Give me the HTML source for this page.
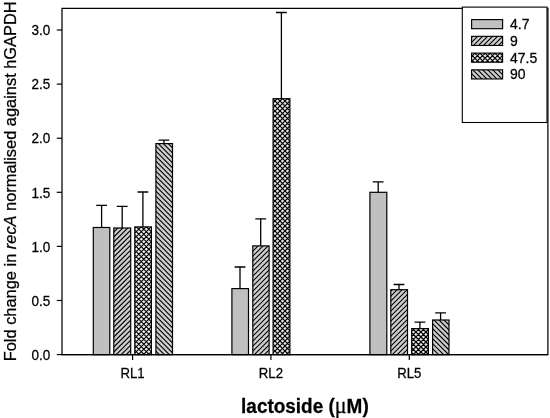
<!DOCTYPE html>
<html><head><meta charset="utf-8"><title>chart</title>
<style>
html,body{margin:0;padding:0;background:#fff;}
body{width:550px;height:418px;overflow:hidden;}
svg{display:block;}
text{font-family:"Liberation Sans",sans-serif;fill:#000;stroke:#000;stroke-width:0.25px;}
</style></head><body>
<svg width="550" height="418" viewBox="0 0 550 418" style="will-change:transform">
<defs>
<filter id="bl" x="-5%" y="-5%" width="110%" height="110%"><feGaussianBlur stdDeviation="0.45"/></filter>
</defs>
<rect width="550" height="418" fill="#fff"/>
<!-- frame -->
<path d="M62 8.45H547.9V354.6H62Z" fill="none" stroke="#000" stroke-width="1.25"/>
<line x1="56.8" x2="62" y1="354.6" y2="354.6" stroke="#000" stroke-width="1.2"/>
<text transform="translate(50.2 359.8) scale(1 1.07)" text-anchor="end" font-size="13.5">0.0</text>
<line x1="56.8" x2="62" y1="300.5" y2="300.5" stroke="#000" stroke-width="1.2"/>
<text transform="translate(50.2 305.7) scale(1 1.07)" text-anchor="end" font-size="13.5">0.5</text>
<line x1="56.8" x2="62" y1="246.4" y2="246.4" stroke="#000" stroke-width="1.2"/>
<text transform="translate(50.2 251.6) scale(1 1.07)" text-anchor="end" font-size="13.5">1.0</text>
<line x1="56.8" x2="62" y1="192.3" y2="192.3" stroke="#000" stroke-width="1.2"/>
<text transform="translate(50.2 197.5) scale(1 1.07)" text-anchor="end" font-size="13.5">1.5</text>
<line x1="56.8" x2="62" y1="138.2" y2="138.2" stroke="#000" stroke-width="1.2"/>
<text transform="translate(50.2 143.4) scale(1 1.07)" text-anchor="end" font-size="13.5">2.0</text>
<line x1="56.8" x2="62" y1="84.1" y2="84.1" stroke="#000" stroke-width="1.2"/>
<text transform="translate(50.2 89.3) scale(1 1.07)" text-anchor="end" font-size="13.5">2.5</text>
<line x1="56.8" x2="62" y1="30.0" y2="30.0" stroke="#000" stroke-width="1.2"/>
<text transform="translate(50.2 35.2) scale(1 1.07)" text-anchor="end" font-size="13.5">3.0</text>
<line x1="132.6" x2="132.6" y1="354.6" y2="360.1" stroke="#000" stroke-width="1.2"/>
<text transform="translate(132.6 378.4) scale(1 1.07)" text-anchor="middle" font-size="13.2">RL1</text>
<line x1="270.9" x2="270.9" y1="354.6" y2="360.1" stroke="#000" stroke-width="1.2"/>
<text transform="translate(270.9 378.4) scale(1 1.07)" text-anchor="middle" font-size="13.2">RL2</text>
<line x1="409.3" x2="409.3" y1="354.6" y2="360.1" stroke="#000" stroke-width="1.2"/>
<text transform="translate(409.3 378.4) scale(1 1.07)" text-anchor="middle" font-size="13.2">RL5</text>
<path d="M101.6 227.5V205.3M96.2 205.3H107.0" stroke="#000" stroke-width="1.3" fill="none"/>
<rect x="93.30" y="227.50" width="16.50" height="127.10" fill="#c0c0c0" stroke="#000" stroke-width="1.2"/>
<path d="M122.2 228.0V206.4M116.8 206.4H127.6" stroke="#000" stroke-width="1.3" fill="none"/>
<clipPath id="c1"><rect x="113.80" y="228.00" width="16.90" height="126.60"/></clipPath>
<rect x="113.80" y="228.00" width="16.90" height="126.60" fill="#cdcdcd"/>
<g clip-path="url(#c1)"><path filter="url(#bl)" d="M112.80 223.00L131.70 204.10M112.80 228.00L131.70 209.10M112.80 233.00L131.70 214.10M112.80 238.00L131.70 219.10M112.80 243.00L131.70 224.10M112.80 248.00L131.70 229.10M112.80 253.00L131.70 234.10M112.80 258.00L131.70 239.10M112.80 263.00L131.70 244.10M112.80 268.00L131.70 249.10M112.80 273.00L131.70 254.10M112.80 278.00L131.70 259.10M112.80 283.00L131.70 264.10M112.80 288.00L131.70 269.10M112.80 293.00L131.70 274.10M112.80 298.00L131.70 279.10M112.80 303.00L131.70 284.10M112.80 308.00L131.70 289.10M112.80 313.00L131.70 294.10M112.80 318.00L131.70 299.10M112.80 323.00L131.70 304.10M112.80 328.00L131.70 309.10M112.80 333.00L131.70 314.10M112.80 338.00L131.70 319.10M112.80 343.00L131.70 324.10M112.80 348.00L131.70 329.10M112.80 353.00L131.70 334.10M112.80 358.00L131.70 339.10M112.80 363.00L131.70 344.10M112.80 368.00L131.70 349.10M112.80 373.00L131.70 354.10M112.80 378.00L131.70 359.10" stroke="#000" stroke-width="1.1" fill="none"/></g>
<rect x="113.80" y="228.00" width="16.90" height="126.60" fill="none" stroke="#000" stroke-width="1.2"/>
<path d="M142.9 226.9V192.0M137.5 192.0H148.3" stroke="#000" stroke-width="1.3" fill="none"/>
<clipPath id="c2"><rect x="134.80" y="226.90" width="16.60" height="127.70"/></clipPath>
<rect x="134.80" y="226.90" width="16.60" height="127.70" fill="#e8e8e8"/>
<g clip-path="url(#c2)"><path filter="url(#bl)" d="M133.80 219.20L152.40 200.60M133.80 224.20L152.40 205.60M133.80 229.20L152.40 210.60M133.80 234.20L152.40 215.60M133.80 239.20L152.40 220.60M133.80 244.20L152.40 225.60M133.80 249.20L152.40 230.60M133.80 254.20L152.40 235.60M133.80 259.20L152.40 240.60M133.80 264.20L152.40 245.60M133.80 269.20L152.40 250.60M133.80 274.20L152.40 255.60M133.80 279.20L152.40 260.60M133.80 284.20L152.40 265.60M133.80 289.20L152.40 270.60M133.80 294.20L152.40 275.60M133.80 299.20L152.40 280.60M133.80 304.20L152.40 285.60M133.80 309.20L152.40 290.60M133.80 314.20L152.40 295.60M133.80 319.20L152.40 300.60M133.80 324.20L152.40 305.60M133.80 329.20L152.40 310.60M133.80 334.20L152.40 315.60M133.80 339.20L152.40 320.60M133.80 344.20L152.40 325.60M133.80 349.20L152.40 330.60M133.80 354.20L152.40 335.60M133.80 359.20L152.40 340.60M133.80 364.20L152.40 345.60M133.80 369.20L152.40 350.60M133.80 374.20L152.40 355.60M133.80 379.20L152.40 360.60M133.80 204.20L152.40 222.80M133.80 209.20L152.40 227.80M133.80 214.20L152.40 232.80M133.80 219.20L152.40 237.80M133.80 224.20L152.40 242.80M133.80 229.20L152.40 247.80M133.80 234.20L152.40 252.80M133.80 239.20L152.40 257.80M133.80 244.20L152.40 262.80M133.80 249.20L152.40 267.80M133.80 254.20L152.40 272.80M133.80 259.20L152.40 277.80M133.80 264.20L152.40 282.80M133.80 269.20L152.40 287.80M133.80 274.20L152.40 292.80M133.80 279.20L152.40 297.80M133.80 284.20L152.40 302.80M133.80 289.20L152.40 307.80M133.80 294.20L152.40 312.80M133.80 299.20L152.40 317.80M133.80 304.20L152.40 322.80M133.80 309.20L152.40 327.80M133.80 314.20L152.40 332.80M133.80 319.20L152.40 337.80M133.80 324.20L152.40 342.80M133.80 329.20L152.40 347.80M133.80 334.20L152.40 352.80M133.80 339.20L152.40 357.80M133.80 344.20L152.40 362.80M133.80 349.20L152.40 367.80M133.80 354.20L152.40 372.80M133.80 359.20L152.40 377.80" stroke="#000" stroke-width="1.15" fill="none"/></g>
<rect x="134.80" y="226.90" width="16.60" height="127.70" fill="none" stroke="#000" stroke-width="1.2"/>
<path d="M163.9 143.6V140.2M158.5 140.2H169.3" stroke="#000" stroke-width="1.3" fill="none"/>
<clipPath id="c3"><rect x="155.90" y="143.60" width="16.60" height="211.00"/></clipPath>
<rect x="155.90" y="143.60" width="16.60" height="211.00" fill="#cdcdcd"/>
<g clip-path="url(#c3)"><path filter="url(#bl)" d="M154.90 120.20L173.50 138.80M154.90 125.20L173.50 143.80M154.90 130.20L173.50 148.80M154.90 135.20L173.50 153.80M154.90 140.20L173.50 158.80M154.90 145.20L173.50 163.80M154.90 150.20L173.50 168.80M154.90 155.20L173.50 173.80M154.90 160.20L173.50 178.80M154.90 165.20L173.50 183.80M154.90 170.20L173.50 188.80M154.90 175.20L173.50 193.80M154.90 180.20L173.50 198.80M154.90 185.20L173.50 203.80M154.90 190.20L173.50 208.80M154.90 195.20L173.50 213.80M154.90 200.20L173.50 218.80M154.90 205.20L173.50 223.80M154.90 210.20L173.50 228.80M154.90 215.20L173.50 233.80M154.90 220.20L173.50 238.80M154.90 225.20L173.50 243.80M154.90 230.20L173.50 248.80M154.90 235.20L173.50 253.80M154.90 240.20L173.50 258.80M154.90 245.20L173.50 263.80M154.90 250.20L173.50 268.80M154.90 255.20L173.50 273.80M154.90 260.20L173.50 278.80M154.90 265.20L173.50 283.80M154.90 270.20L173.50 288.80M154.90 275.20L173.50 293.80M154.90 280.20L173.50 298.80M154.90 285.20L173.50 303.80M154.90 290.20L173.50 308.80M154.90 295.20L173.50 313.80M154.90 300.20L173.50 318.80M154.90 305.20L173.50 323.80M154.90 310.20L173.50 328.80M154.90 315.20L173.50 333.80M154.90 320.20L173.50 338.80M154.90 325.20L173.50 343.80M154.90 330.20L173.50 348.80M154.90 335.20L173.50 353.80M154.90 340.20L173.50 358.80M154.90 345.20L173.50 363.80M154.90 350.20L173.50 368.80M154.90 355.20L173.50 373.80M154.90 360.20L173.50 378.80" stroke="#000" stroke-width="1.1" fill="none"/></g>
<rect x="155.90" y="143.60" width="16.60" height="211.00" fill="none" stroke="#000" stroke-width="1.2"/>
<path d="M240.0 288.6V267.0M234.6 267.0H245.4" stroke="#000" stroke-width="1.3" fill="none"/>
<rect x="231.90" y="288.60" width="16.60" height="66.00" fill="#c0c0c0" stroke="#000" stroke-width="1.2"/>
<path d="M260.7 245.9V218.8M255.3 218.8H266.1" stroke="#000" stroke-width="1.3" fill="none"/>
<clipPath id="c4"><rect x="252.80" y="245.90" width="16.30" height="108.70"/></clipPath>
<rect x="252.80" y="245.90" width="16.30" height="108.70" fill="#cdcdcd"/>
<g clip-path="url(#c4)"><path filter="url(#bl)" d="M251.80 237.20L270.10 218.90M251.80 242.20L270.10 223.90M251.80 247.20L270.10 228.90M251.80 252.20L270.10 233.90M251.80 257.20L270.10 238.90M251.80 262.20L270.10 243.90M251.80 267.20L270.10 248.90M251.80 272.20L270.10 253.90M251.80 277.20L270.10 258.90M251.80 282.20L270.10 263.90M251.80 287.20L270.10 268.90M251.80 292.20L270.10 273.90M251.80 297.20L270.10 278.90M251.80 302.20L270.10 283.90M251.80 307.20L270.10 288.90M251.80 312.20L270.10 293.90M251.80 317.20L270.10 298.90M251.80 322.20L270.10 303.90M251.80 327.20L270.10 308.90M251.80 332.20L270.10 313.90M251.80 337.20L270.10 318.90M251.80 342.20L270.10 323.90M251.80 347.20L270.10 328.90M251.80 352.20L270.10 333.90M251.80 357.20L270.10 338.90M251.80 362.20L270.10 343.90M251.80 367.20L270.10 348.90M251.80 372.20L270.10 353.90M251.80 377.20L270.10 358.90" stroke="#000" stroke-width="1.1" fill="none"/></g>
<rect x="252.80" y="245.90" width="16.30" height="108.70" fill="none" stroke="#000" stroke-width="1.2"/>
<path d="M281.4 98.7V12.5M276.0 12.5H286.8" stroke="#000" stroke-width="1.3" fill="none"/>
<clipPath id="c5"><rect x="273.10" y="98.70" width="16.80" height="255.90"/></clipPath>
<rect x="273.10" y="98.70" width="16.80" height="255.90" fill="#e8e8e8"/>
<g clip-path="url(#c5)"><path filter="url(#bl)" d="M272.10 93.83L290.90 75.03M272.10 98.83L290.90 80.03M272.10 103.83L290.90 85.03M272.10 108.83L290.90 90.03M272.10 113.83L290.90 95.03M272.10 118.83L290.90 100.03M272.10 123.83L290.90 105.03M272.10 128.83L290.90 110.03M272.10 133.83L290.90 115.03M272.10 138.83L290.90 120.03M272.10 143.83L290.90 125.03M272.10 148.83L290.90 130.03M272.10 153.83L290.90 135.03M272.10 158.83L290.90 140.03M272.10 163.83L290.90 145.03M272.10 168.83L290.90 150.03M272.10 173.83L290.90 155.03M272.10 178.83L290.90 160.03M272.10 183.83L290.90 165.03M272.10 188.83L290.90 170.03M272.10 193.83L290.90 175.03M272.10 198.83L290.90 180.03M272.10 203.83L290.90 185.03M272.10 208.83L290.90 190.03M272.10 213.83L290.90 195.03M272.10 218.83L290.90 200.03M272.10 223.83L290.90 205.03M272.10 228.83L290.90 210.03M272.10 233.83L290.90 215.03M272.10 238.83L290.90 220.03M272.10 243.83L290.90 225.03M272.10 248.83L290.90 230.03M272.10 253.83L290.90 235.03M272.10 258.83L290.90 240.03M272.10 263.83L290.90 245.03M272.10 268.83L290.90 250.03M272.10 273.83L290.90 255.03M272.10 278.83L290.90 260.03M272.10 283.83L290.90 265.03M272.10 288.83L290.90 270.03M272.10 293.83L290.90 275.03M272.10 298.83L290.90 280.03M272.10 303.83L290.90 285.03M272.10 308.83L290.90 290.03M272.10 313.83L290.90 295.03M272.10 318.83L290.90 300.03M272.10 323.83L290.90 305.03M272.10 328.83L290.90 310.03M272.10 333.83L290.90 315.03M272.10 338.83L290.90 320.03M272.10 343.83L290.90 325.03M272.10 348.83L290.90 330.03M272.10 353.83L290.90 335.03M272.10 358.83L290.90 340.03M272.10 363.83L290.90 345.03M272.10 368.83L290.90 350.03M272.10 373.83L290.90 355.03M272.10 378.83L290.90 360.03M272.10 73.15L290.90 91.95M272.10 78.15L290.90 96.95M272.10 83.15L290.90 101.95M272.10 88.15L290.90 106.95M272.10 93.15L290.90 111.95M272.10 98.15L290.90 116.95M272.10 103.15L290.90 121.95M272.10 108.15L290.90 126.95M272.10 113.15L290.90 131.95M272.10 118.15L290.90 136.95M272.10 123.15L290.90 141.95M272.10 128.15L290.90 146.95M272.10 133.15L290.90 151.95M272.10 138.15L290.90 156.95M272.10 143.15L290.90 161.95M272.10 148.15L290.90 166.95M272.10 153.15L290.90 171.95M272.10 158.15L290.90 176.95M272.10 163.15L290.90 181.95M272.10 168.15L290.90 186.95M272.10 173.15L290.90 191.95M272.10 178.15L290.90 196.95M272.10 183.15L290.90 201.95M272.10 188.15L290.90 206.95M272.10 193.15L290.90 211.95M272.10 198.15L290.90 216.95M272.10 203.15L290.90 221.95M272.10 208.15L290.90 226.95M272.10 213.15L290.90 231.95M272.10 218.15L290.90 236.95M272.10 223.15L290.90 241.95M272.10 228.15L290.90 246.95M272.10 233.15L290.90 251.95M272.10 238.15L290.90 256.95M272.10 243.15L290.90 261.95M272.10 248.15L290.90 266.95M272.10 253.15L290.90 271.95M272.10 258.15L290.90 276.95M272.10 263.15L290.90 281.95M272.10 268.15L290.90 286.95M272.10 273.15L290.90 291.95M272.10 278.15L290.90 296.95M272.10 283.15L290.90 301.95M272.10 288.15L290.90 306.95M272.10 293.15L290.90 311.95M272.10 298.15L290.90 316.95M272.10 303.15L290.90 321.95M272.10 308.15L290.90 326.95M272.10 313.15L290.90 331.95M272.10 318.15L290.90 336.95M272.10 323.15L290.90 341.95M272.10 328.15L290.90 346.95M272.10 333.15L290.90 351.95M272.10 338.15L290.90 356.95M272.10 343.15L290.90 361.95M272.10 348.15L290.90 366.95M272.10 353.15L290.90 371.95M272.10 358.15L290.90 376.95M272.10 363.15L290.90 381.95" stroke="#000" stroke-width="1.15" fill="none"/></g>
<rect x="273.10" y="98.70" width="16.80" height="255.90" fill="none" stroke="#000" stroke-width="1.2"/>
<path d="M378.2 192.3V181.8M372.8 181.8H383.6" stroke="#000" stroke-width="1.3" fill="none"/>
<rect x="369.90" y="192.30" width="16.90" height="162.30" fill="#c0c0c0" stroke="#000" stroke-width="1.2"/>
<path d="M399.0 289.7V284.5M393.6 284.5H404.4" stroke="#000" stroke-width="1.3" fill="none"/>
<clipPath id="c6"><rect x="390.80" y="289.70" width="16.70" height="64.90"/></clipPath>
<rect x="390.80" y="289.70" width="16.70" height="64.90" fill="#cdcdcd"/>
<g clip-path="url(#c6)"><path filter="url(#bl)" d="M389.80 282.06L408.50 263.36M389.80 287.06L408.50 268.36M389.80 292.06L408.50 273.36M389.80 297.06L408.50 278.36M389.80 302.06L408.50 283.36M389.80 307.06L408.50 288.36M389.80 312.06L408.50 293.36M389.80 317.06L408.50 298.36M389.80 322.06L408.50 303.36M389.80 327.06L408.50 308.36M389.80 332.06L408.50 313.36M389.80 337.06L408.50 318.36M389.80 342.06L408.50 323.36M389.80 347.06L408.50 328.36M389.80 352.06L408.50 333.36M389.80 357.06L408.50 338.36M389.80 362.06L408.50 343.36M389.80 367.06L408.50 348.36M389.80 372.06L408.50 353.36M389.80 377.06L408.50 358.36M389.80 382.06L408.50 363.36" stroke="#000" stroke-width="1.1" fill="none"/></g>
<rect x="390.80" y="289.70" width="16.70" height="64.90" fill="none" stroke="#000" stroke-width="1.2"/>
<path d="M419.9 328.6V322.1M414.5 322.1H425.3" stroke="#000" stroke-width="1.3" fill="none"/>
<clipPath id="c7"><rect x="411.70" y="328.60" width="16.70" height="26.00"/></clipPath>
<rect x="411.70" y="328.60" width="16.70" height="26.00" fill="#e8e8e8"/>
<g clip-path="url(#c7)"><path filter="url(#bl)" d="M410.70 322.17L429.40 303.47M410.70 327.17L429.40 308.47M410.70 332.17L429.40 313.47M410.70 337.17L429.40 318.47M410.70 342.17L429.40 323.47M410.70 347.17L429.40 328.47M410.70 352.17L429.40 333.47M410.70 357.17L429.40 338.47M410.70 362.17L429.40 343.47M410.70 367.17L429.40 348.47M410.70 372.17L429.40 353.47M410.70 377.17L429.40 358.47M410.70 382.17L429.40 363.47M410.70 301.77L429.40 320.47M410.70 306.77L429.40 325.47M410.70 311.77L429.40 330.47M410.70 316.77L429.40 335.47M410.70 321.77L429.40 340.47M410.70 326.77L429.40 345.47M410.70 331.77L429.40 350.47M410.70 336.77L429.40 355.47M410.70 341.77L429.40 360.47M410.70 346.77L429.40 365.47M410.70 351.77L429.40 370.47M410.70 356.77L429.40 375.47M410.70 361.77L429.40 380.47" stroke="#000" stroke-width="1.15" fill="none"/></g>
<rect x="411.70" y="328.60" width="16.70" height="26.00" fill="none" stroke="#000" stroke-width="1.2"/>
<path d="M440.6 320.0V312.9M435.2 312.9H446.0" stroke="#000" stroke-width="1.3" fill="none"/>
<clipPath id="c8"><rect x="432.60" y="320.00" width="16.40" height="34.60"/></clipPath>
<rect x="432.60" y="320.00" width="16.40" height="34.60" fill="#cdcdcd"/>
<g clip-path="url(#c8)"><path filter="url(#bl)" d="M431.60 297.60L450.00 316.00M431.60 302.60L450.00 321.00M431.60 307.60L450.00 326.00M431.60 312.60L450.00 331.00M431.60 317.60L450.00 336.00M431.60 322.60L450.00 341.00M431.60 327.60L450.00 346.00M431.60 332.60L450.00 351.00M431.60 337.60L450.00 356.00M431.60 342.60L450.00 361.00M431.60 347.60L450.00 366.00M431.60 352.60L450.00 371.00M431.60 357.60L450.00 376.00M431.60 362.60L450.00 381.00" stroke="#000" stroke-width="1.1" fill="none"/></g>
<rect x="432.60" y="320.00" width="16.40" height="34.60" fill="none" stroke="#000" stroke-width="1.2"/>
<line x1="62" x2="547.9" y1="354.6" y2="354.6" stroke="#000" stroke-width="1.3"/>
<!-- legend -->
<rect x="462.3" y="7.1" width="84.7" height="115.4" fill="#fff" stroke="#000" stroke-width="1.1"/>
<rect x="471.60" y="19.60" width="31.00" height="9.10" fill="#c0c0c0" stroke="#000" stroke-width="1.15"/>
<text transform="translate(510.0 29.1) scale(1 1.07)" font-size="14">4.7</text>
<clipPath id="c9"><rect x="471.60" y="36.35" width="31.00" height="9.10"/></clipPath>
<rect x="471.60" y="36.35" width="31.00" height="9.10" fill="#cdcdcd"/>
<g clip-path="url(#c9)"><path filter="url(#bl)" d="M470.60 28.30L503.60 -4.70M470.60 33.30L503.60 0.30M470.60 38.30L503.60 5.30M470.60 43.30L503.60 10.30M470.60 48.30L503.60 15.30M470.60 53.30L503.60 20.30M470.60 58.30L503.60 25.30M470.60 63.30L503.60 30.30M470.60 68.30L503.60 35.30M470.60 73.30L503.60 40.30M470.60 78.30L503.60 45.30M470.60 83.30L503.60 50.30" stroke="#000" stroke-width="1.1" fill="none"/></g>
<rect x="471.60" y="36.35" width="31.00" height="9.10" fill="none" stroke="#000" stroke-width="1.15"/>
<text transform="translate(510.0 45.9) scale(1 1.07)" font-size="14">9</text>
<clipPath id="c10"><rect x="471.60" y="53.10" width="31.00" height="9.10"/></clipPath>
<rect x="471.60" y="53.10" width="31.00" height="9.10" fill="#e8e8e8"/>
<g clip-path="url(#c10)"><path filter="url(#bl)" d="M470.60 47.60L503.60 14.60M470.60 52.60L503.60 19.60M470.60 57.60L503.60 24.60M470.60 62.60L503.60 29.60M470.60 67.60L503.60 34.60M470.60 72.60L503.60 39.60M470.60 77.60L503.60 44.60M470.60 82.60L503.60 49.60M470.60 87.60L503.60 54.60M470.60 92.60L503.60 59.60M470.60 97.60L503.60 64.60M470.60 102.60L503.60 69.60M470.60 13.80L503.60 46.80M470.60 18.80L503.60 51.80M470.60 23.80L503.60 56.80M470.60 28.80L503.60 61.80M470.60 33.80L503.60 66.80M470.60 38.80L503.60 71.80M470.60 43.80L503.60 76.80M470.60 48.80L503.60 81.80M470.60 53.80L503.60 86.80M470.60 58.80L503.60 91.80M470.60 63.80L503.60 96.80M470.60 68.80L503.60 101.80" stroke="#000" stroke-width="1.15" fill="none"/></g>
<rect x="471.60" y="53.10" width="31.00" height="9.10" fill="none" stroke="#000" stroke-width="1.15"/>
<text transform="translate(510.0 62.6) scale(1 1.07)" font-size="14">47.5</text>
<clipPath id="c11"><rect x="471.60" y="69.85" width="31.00" height="9.10"/></clipPath>
<rect x="471.60" y="69.85" width="31.00" height="9.10" fill="#cdcdcd"/>
<g clip-path="url(#c11)"><path filter="url(#bl)" d="M470.60 32.70L503.60 65.70M470.60 37.70L503.60 70.70M470.60 42.70L503.60 75.70M470.60 47.70L503.60 80.70M470.60 52.70L503.60 85.70M470.60 57.70L503.60 90.70M470.60 62.70L503.60 95.70M470.60 67.70L503.60 100.70M470.60 72.70L503.60 105.70M470.60 77.70L503.60 110.70M470.60 82.70L503.60 115.70M470.60 87.70L503.60 120.70" stroke="#000" stroke-width="1.1" fill="none"/></g>
<rect x="471.60" y="69.85" width="31.00" height="9.10" fill="none" stroke="#000" stroke-width="1.15"/>
<text transform="translate(510.0 79.3) scale(1 1.07)" font-size="14">90</text>
<text transform="translate(16.3 361.3) rotate(-90)" font-size="16.3" textLength="360" lengthAdjust="spacingAndGlyphs">Fold change in <tspan font-style="italic">recA</tspan> normalised against hGAPDH</text>
<text transform="translate(241.1 413.1) scale(1 1.04)" font-size="18.95" font-weight="bold">lactoside (<tspan font-family="Liberation Serif" font-weight="normal" font-size="22">μ</tspan>M)</text>
</svg>
</body></html>
